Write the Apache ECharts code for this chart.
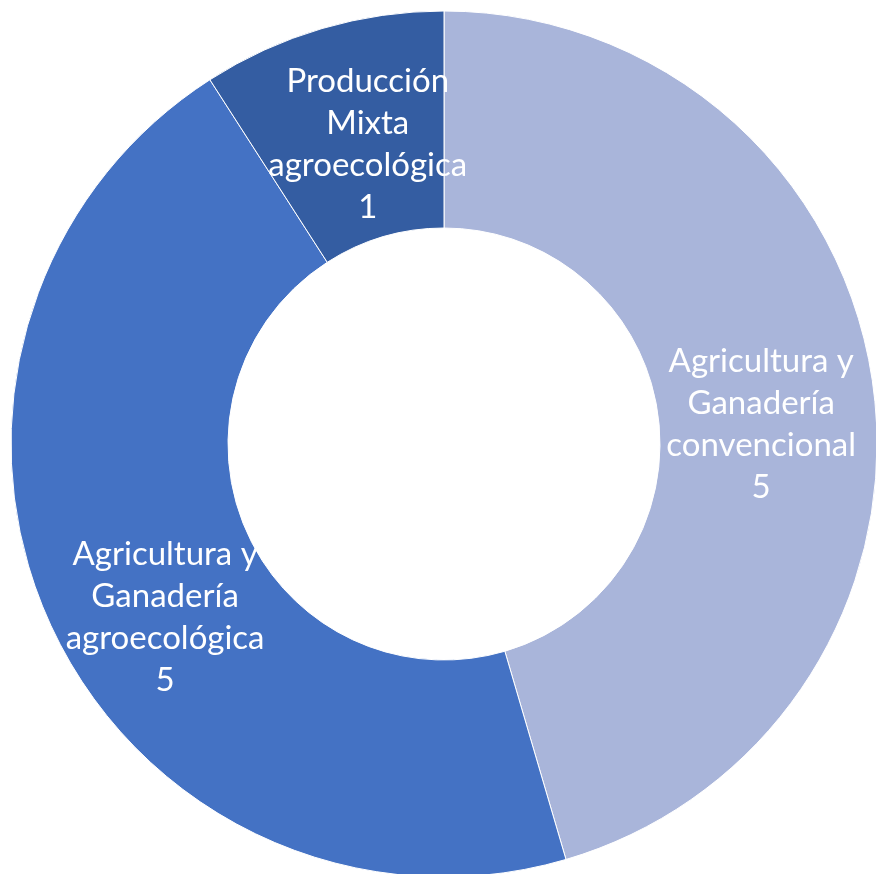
<!DOCTYPE html>
<html>
<head>
<meta charset="utf-8">
<script src="https://cdn.jsdelivr.net/npm/echarts@6/dist/echarts.min.js"></script>
<style>
    html, body { margin: 0; padding: 0; background: #fff; }
    #chart { width: 876px; height: 874px; }
</style>
</head>
<body>
<div id="chart"></div>
<script>
    // categorías y valores
    var categories = ['Agricultura y\nGanadería\nconvencional', 'Agricultura y\nGanadería\nagroecológica', 'Producción\nMixta\nagroecológica'];
    var values = [5, 5, 1];
    var colors = ['#A9B5DA', '#4472C4', '#345DA2'];
    // ajuste de etiquetas (como en Excel)
    var labelShift = [[-7, 27], [19, 37], [16, 15]];

    var chart = echarts.init(document.getElementById('chart'));

    var data = categories.map(function (name, i) {
        return {
            name: name,
            value: values[i],
            itemStyle: { color: colors[i] },
            label: { offset: labelShift[i] }
        };
    });

    chart.setOption({
        animation: false,
        series: [
            {
                type: 'pie',
                center: [444, 444],
                radius: [216, 433],
                startAngle: 90,
                clockwise: true,
                avoidLabelOverlap: false,
                itemStyle: {
                    borderColor: '#fff',
                    borderWidth: 1
                },
                label: {
                    show: true,
                    position: 'inside',
                    formatter: '{b}\n{c}',
                    color: '#fff',
                    fontFamily: 'Lato, "Open Sans", sans-serif',
                    fontSize: 33,
                    lineHeight: 42,
                    align: 'center'
                },
                labelLine: { show: false },
                data: data
            }
        ]
    });
</script>
</body>
</html>
